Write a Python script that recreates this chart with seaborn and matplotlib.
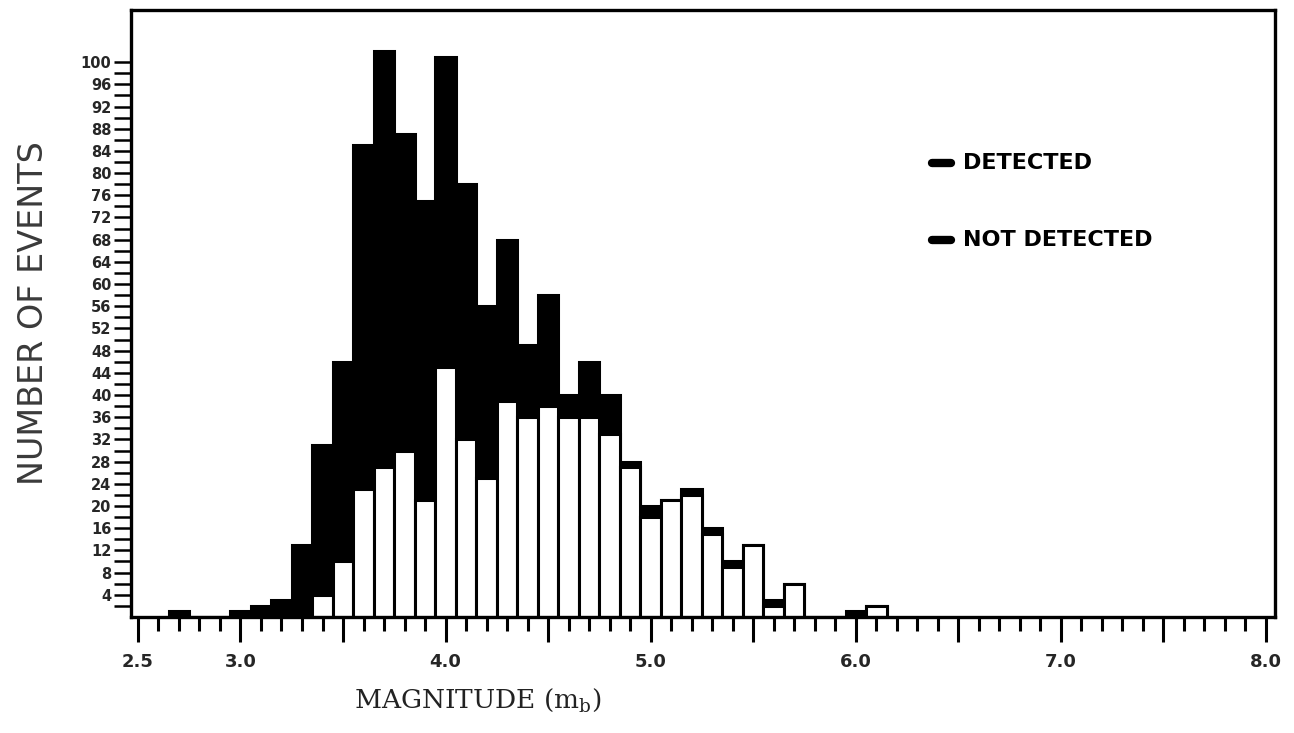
import numpy as np
import pandas as pd
import matplotlib
matplotlib.use("Agg")
import matplotlib.pyplot as plt
import seaborn as sns

# Body-wave magnitude bins (centres, width 0.1) and event counts per bin
magnitude = [2.7, 3.0, 3.1, 3.2, 3.3, 3.4, 3.5, 3.6, 3.7, 3.8, 3.9, 4.0, 4.1,
             4.2, 4.3, 4.4, 4.5, 4.6, 4.7, 4.8, 4.9, 5.0, 5.1, 5.2, 5.3, 5.4,
             5.5, 5.6, 5.7, 6.0, 6.1]
total_events = [1, 1, 2, 3, 13, 31, 46, 85, 102, 87, 75, 101, 78,
                56, 68, 49, 58, 40, 46, 40, 28, 20, 21, 23, 16, 10,
                13, 3, 6, 1, 2]
detected_events = [0, 0, 0, 0, 0, 4, 10, 23, 27, 30, 21, 45, 32,
                   25, 39, 36, 38, 36, 36, 33, 27, 18, 21, 22, 15, 9,
                   13, 2, 6, 0, 2]

x_tick_values = [2.5, 3.0, 3.5, 4.0, 4.5, 5.0, 5.5, 6.0, 6.5, 7.0, 7.5, 8.0]
x_tick_labels = ["2.5", "3.0", "", "4.0", "", "5.0", "", "6.0", "", "7.0", "", "8.0"]
y_tick_values = list(range(4, 101, 4))
legend_labels = ["DETECTED", "NOT DETECTED"]

df = pd.DataFrame({"mb": magnitude, "total": total_events,
                   "detected": detected_events})

sns.set_style("white")
plt.rcParams["font.family"] = ["Liberation Sans Narrow", "DejaVu Sans"]
plt.rcParams["mathtext.fontset"] = "dejavuserif"

fig = plt.figure(figsize=(12.94, 7.33), dpi=100)
ax = fig.add_axes([0.1012, 0.1583, 0.8841, 0.8281])

bin_kw = dict(binwidth=0.1, binrange=(2.65, 6.15), alpha=1,
              edgecolor="black", linewidth=2.2, ax=ax)
# Full bin counts in black, detected portion in white over it
sns.histplot(data=df, x="mb", weights="total", color="black", **bin_kw)
sns.histplot(data=df, x="mb", weights="detected", color="white", **bin_kw)

ax.set_xlim(2.466, 8.044)
ax.set_ylim(0, 109.4)

for side in ["left", "right", "top", "bottom"]:
    ax.spines[side].set_visible(True)
    ax.spines[side].set_color("black")
    ax.spines[side].set_linewidth(2.4)

ax.set_xticks(x_tick_values)
ax.set_xticklabels(x_tick_labels)
ax.set_xticks(np.arange(2.5, 8.01, 0.1), minor=True)
ax.set_yticks(y_tick_values)
ax.set_yticklabels([str(v) for v in y_tick_values])
ax.set_yticks(np.arange(2, 101, 2), minor=True)

ax.tick_params(axis="x", which="major", direction="out", length=18,
               width=2.2, color="black", pad=8, labelsize=13)
ax.tick_params(axis="x", which="minor", direction="out", length=10,
               width=2.2, color="black")
ax.tick_params(axis="y", which="both", direction="out", length=12,
               width=1.8, color="black", pad=2, labelsize=10.5)
ax.tick_params(axis="x", which="both", bottom=True)
ax.tick_params(axis="y", which="both", left=True)
for lab in ax.get_xticklabels() + ax.get_yticklabels():
    lab.set_fontweight("bold")

ax.set_xlabel(r"MAGNITUDE (m$_\mathregular{b}$)", family="DejaVu Serif",
              fontsize=19, color="#222222")
ax.set_ylabel("NUMBER OF EVENTS", fontsize=24, color="#3a3a3a")
ax.yaxis.set_label_coords(-0.071, 0.5)
ax.xaxis.set_label_coords(0.303, -0.115)

# Key in the upper right
for i, lab in enumerate(legend_labels):
    y = 0.748 - i * 0.127
    ax.plot([0.7005, 0.717], [y, y], transform=ax.transAxes, color="black",
            lw=6, solid_capstyle="round", clip_on=False)
    ax.text(0.727, y, lab, transform=ax.transAxes, fontsize=16,
            fontweight="bold", va="center", ha="left", color="black")

fig.savefig("out.png", dpi=100)
